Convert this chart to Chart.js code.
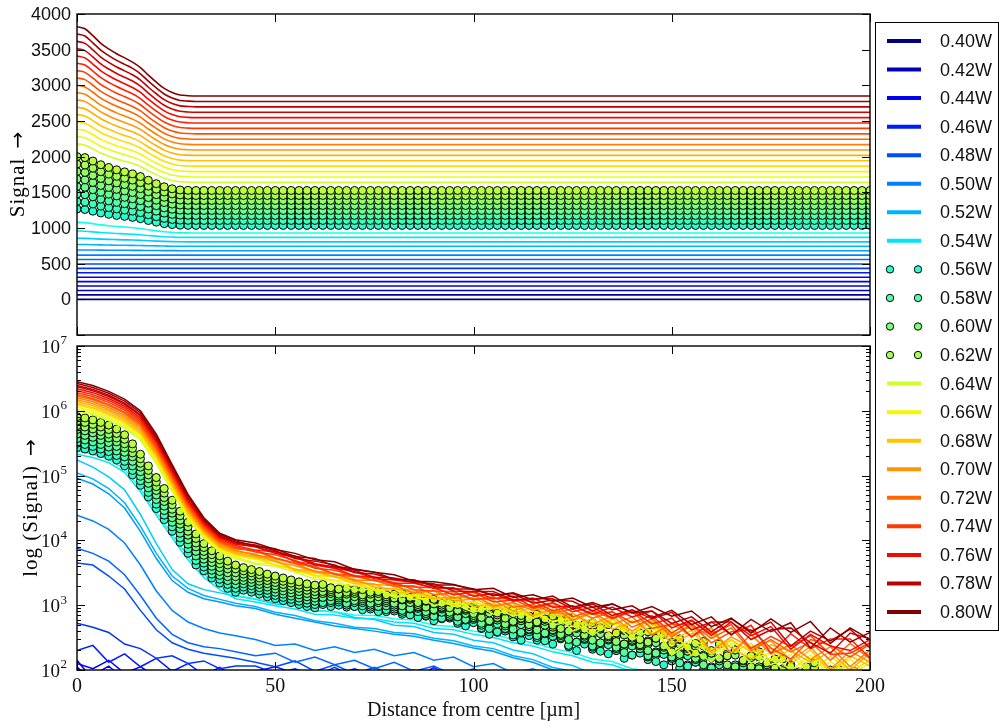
<!DOCTYPE html>
<html>
<head>
<meta charset="utf-8">
<script src="https://cdn.jsdelivr.net/npm/chart.js@4"></script>
<style>
  body { margin: 0; background: #fff; }
  #wrap { position: relative; width: 1000px; height: 722px; }
  .pane { position: absolute; left: 0; top: 0; width: 1000px; }
</style>
</head>
<body>
<div id="wrap">
  <div class="pane" style="height:722px"><canvas id="logChart"></canvas></div>
  <div class="pane" style="height:340px"><canvas id="linChart"></canvas></div>
</div>
<script>
// pump powers, one profile each
const powers = [0.40,0.41,0.42,0.43,0.44,0.45,0.46,0.47,0.48,0.49,0.50,0.51,0.52,0.53,0.54,0.55,0.56,0.57,0.58,0.59,0.60,
                0.61,0.62,0.63,0.64,0.65,0.66,0.67,0.68,0.69,0.70,0.71,0.72,0.73,0.74,0.75,0.76,0.77,0.78,0.79,0.80];
// these ones are plotted as circles
const dotPowers = [0.56,0.57,0.58,0.59,0.60,0.61,0.62,0.63];

// distance grids [um]
const xEdge = [0, 200];
const xTop = [0,2,4,6,8,10,12,14,16,18,20,22,24,26,28,30,200];
const xLine = [0,4,8,12,16,20,24,28,32,36,40,45,50,55,60,65,70,75,80,85,90,95,100,105,110,115,120,125,130,135,140,145,150,155,160,165,170,175,180,185,190,195,200];
const xDot = [0,2,4,6,8,10,12,14,16,18,20,22,24,26,28,30,32,34,36,38,40,42,44,46,48,50,52,54,56,58,60,62,64,66,68,70,72,74,76,78,80,
              82,84,86,88,90,92,94,96,98,100,102,104,106,108,110,112,114,116,118,120,122,124,126,128,130,132,134,136,138,140,
              142,144,146,148,150,152,154,156,158,160,162,164,166,168,170,172,174,176,178,180,182,184,186,188,190,192,194,196,198,200];

const xTicks = [0, 50, 100, 150, 200];
const yTopTicks = [-500, 0, 500, 1000, 1500, 2000, 2500, 3000, 3500, 4000];
const logDecades = [2, 3, 4, 5, 6, 7];

// upper panel: offset signal
const topSignal = [
  [0,0],                 // 0.40
  [62,62],
  [124,124],
  [186,186],
  [248,248],
  [310,310],             // 0.45
  [372,372],
  [434,434],
  [496,496],
  [558,558],
  [620,620],             // 0.50
  [692,692,691,690,689,688,688,687,686,685,684,683,683,682,682,682,682],
  [769,768,766,763,761,759,758,756,754,752,749,747,745,744,744,744,744],
  [856,855,850,844,840,837,834,831,827,821,816,812,809,807,806,806,806],
  [958,955,946,936,929,923,918,912,905,895,886,878,873,869,868,868,868],
  [1080,1076,1061,1044,1032,1022,1013,1004,992,975,960,947,938,932,931,930,930],   // 0.55
  [1266,1259,1236,1211,1192,1176,1163,1149,1130,1105,1082,1061,1048,1039,1037,1036,
   1036,1036,1036,1036,1036,1036,1036,1036,1036,1036,1036,1036,1036,1036,1036,1036,1036,
   1036,1036,1036,1036,1036,1036,1036,1036,1036,1036,1036,1036,1036,1036,1036,1036,1036,
   1036,1036,1036,1036,1036,1036,1036,1036,1036,1036,1036,1036,1036,1036,1036,1036,1036,
   1036,1036,1036,1036,1036,1036,1036,1036,1036,1036,1036,1036,1036,1036,1036,1036,1036,
   1036,1036,1036,1036,1036,1036,1036,1036,1036,1036,1036,1036,1036,1036,1036,1036,1036],
  [1371,1363,1337,1307,1286,1268,1252,1236,1215,1186,1159,1135,1119,1110,1107,1106,
   1106,1106,1106,1106,1106,1106,1106,1106,1106,1106,1106,1106,1106,1106,1106,1106,1106,
   1106,1106,1106,1106,1106,1106,1106,1106,1106,1106,1106,1106,1106,1106,1106,1106,1106,
   1106,1106,1106,1106,1106,1106,1106,1106,1106,1106,1106,1106,1106,1106,1106,1106,1106,
   1106,1106,1106,1106,1106,1106,1106,1106,1106,1106,1106,1106,1106,1106,1106,1106,1106,
   1106,1106,1106,1106,1106,1106,1106,1106,1106,1106,1106,1106,1106,1106,1106,1106,1106],
  [1476,1467,1437,1404,1380,1359,1341,1323,1299,1266,1236,1209,1191,1181,1178,1176,
   1176,1176,1176,1176,1176,1176,1176,1176,1176,1176,1176,1176,1176,1176,1176,1176,1176,
   1176,1176,1176,1176,1176,1176,1176,1176,1176,1176,1176,1176,1176,1176,1176,1176,1176,
   1176,1176,1176,1176,1176,1176,1176,1176,1176,1176,1176,1176,1176,1176,1176,1176,1176,
   1176,1176,1176,1176,1176,1176,1176,1176,1176,1176,1176,1176,1176,1176,1176,1176,1176,
   1176,1176,1176,1176,1176,1176,1176,1176,1176,1176,1176,1176,1176,1176,1176,1176,1176],
  [1581,1571,1537,1501,1474,1450,1430,1410,1383,1347,1313,1283,1263,1251,1248,1246,
   1246,1246,1246,1246,1246,1246,1246,1246,1246,1246,1246,1246,1246,1246,1246,1246,1246,
   1246,1246,1246,1246,1246,1246,1246,1246,1246,1246,1246,1246,1246,1246,1246,1246,1246,
   1246,1246,1246,1246,1246,1246,1246,1246,1246,1246,1246,1246,1246,1246,1246,1246,1246,
   1246,1246,1246,1246,1246,1246,1246,1246,1246,1246,1246,1246,1246,1246,1246,1246,1246,
   1246,1246,1246,1246,1246,1246,1246,1246,1246,1246,1246,1246,1246,1246,1246,1246,1246],
  [1686,1675,1638,1597,1568,1542,1520,1497,1468,1427,1390,1357,1335,1322,1318,1316,
   1316,1316,1316,1316,1316,1316,1316,1316,1316,1316,1316,1316,1316,1316,1316,1316,1316,
   1316,1316,1316,1316,1316,1316,1316,1316,1316,1316,1316,1316,1316,1316,1316,1316,1316,
   1316,1316,1316,1316,1316,1316,1316,1316,1316,1316,1316,1316,1316,1316,1316,1316,1316,
   1316,1316,1316,1316,1316,1316,1316,1316,1316,1316,1316,1316,1316,1316,1316,1316,1316,
   1316,1316,1316,1316,1316,1316,1316,1316,1316,1316,1316,1316,1316,1316,1316,1316,1316],
  [1791,1779,1738,1694,1661,1633,1609,1584,1552,1508,1467,1431,1406,1392,1388,1386,
   1386,1386,1386,1386,1386,1386,1386,1386,1386,1386,1386,1386,1386,1386,1386,1386,1386,
   1386,1386,1386,1386,1386,1386,1386,1386,1386,1386,1386,1386,1386,1386,1386,1386,1386,
   1386,1386,1386,1386,1386,1386,1386,1386,1386,1386,1386,1386,1386,1386,1386,1386,1386,
   1386,1386,1386,1386,1386,1386,1386,1386,1386,1386,1386,1386,1386,1386,1386,1386,1386,
   1386,1386,1386,1386,1386,1386,1386,1386,1386,1386,1386,1386,1386,1386,1386,1386,1386],
  [1896,1883,1839,1790,1755,1724,1698,1672,1636,1588,1544,1504,1478,1463,1458,1456,
   1456,1456,1456,1456,1456,1456,1456,1456,1456,1456,1456,1456,1456,1456,1456,1456,1456,
   1456,1456,1456,1456,1456,1456,1456,1456,1456,1456,1456,1456,1456,1456,1456,1456,1456,
   1456,1456,1456,1456,1456,1456,1456,1456,1456,1456,1456,1456,1456,1456,1456,1456,1456,
   1456,1456,1456,1456,1456,1456,1456,1456,1456,1456,1456,1456,1456,1456,1456,1456,1456,
   1456,1456,1456,1456,1456,1456,1456,1456,1456,1456,1456,1456,1456,1456,1456,1456,1456],
  [2001,1987,1939,1887,1849,1816,1787,1759,1721,1669,1621,1578,1550,1533,1528,1526,
   1526,1526,1526,1526,1526,1526,1526,1526,1526,1526,1526,1526,1526,1526,1526,1526,1526,
   1526,1526,1526,1526,1526,1526,1526,1526,1526,1526,1526,1526,1526,1526,1526,1526,1526,
   1526,1526,1526,1526,1526,1526,1526,1526,1526,1526,1526,1526,1526,1526,1526,1526,1526,
   1526,1526,1526,1526,1526,1526,1526,1526,1526,1526,1526,1526,1526,1526,1526,1526,1526,
   1526,1526,1526,1526,1526,1526,1526,1526,1526,1526,1526,1526,1526,1526,1526,1526,1526],
  [2180,2164,2110,2050,2007,1969,1937,1905,1861,1802,1748,1699,1667,1648,1643,1640,1640],   // 0.64
  [2283,2266,2209,2147,2102,2062,2028,1994,1948,1886,1829,1778,1744,1725,1719,1716,1716],
  [2385,2367,2308,2242,2195,2153,2118,2082,2035,1969,1910,1856,1821,1800,1794,1791,1791],
  [2488,2469,2407,2339,2289,2246,2209,2171,2122,2053,1991,1935,1898,1876,1870,1867,1867],
  [2590,2571,2506,2434,2383,2337,2298,2260,2208,2136,2072,2013,1974,1952,1945,1942,1942],
  [2693,2673,2605,2531,2477,2430,2389,2349,2295,2221,2153,2092,2052,2028,2021,2018,2018],
  [2796,2775,2705,2628,2571,2522,2480,2438,2382,2305,2234,2171,2129,2105,2098,2094,2094],   // 0.70
  [2898,2876,2803,2723,2665,2614,2570,2526,2468,2388,2315,2249,2205,2180,2173,2169,2169],
  [3001,2978,2903,2820,2759,2706,2661,2615,2555,2472,2396,2328,2283,2256,2249,2245,2245],
  [3103,3080,3001,2915,2852,2798,2751,2704,2641,2555,2477,2406,2359,2332,2324,2320,2320],
  [3206,3182,3101,3012,2947,2890,2842,2793,2728,2639,2558,2485,2437,2408,2400,2396,2396],
  [3309,3284,3200,3108,3041,2983,2932,2882,2815,2723,2639,2564,2514,2485,2476,2472,2472],
  [3411,3385,3299,3204,3135,3074,3022,2970,2901,2806,2720,2642,2590,2560,2551,2547,2547],
  [3514,3487,3398,3300,3229,3167,3113,3060,2988,2890,2801,2721,2668,2636,2627,2623,2623],
  [3616,3588,3497,3396,3322,3258,3203,3148,3074,2973,2882,2799,2744,2712,2703,2698,2698],
  [3719,3691,3596,3492,3417,3350,3294,3237,3161,3058,2963,2878,2821,2788,2779,2774,2774],
  [3822,3793,3696,3589,3511,3443,3385,3326,3249,3142,3044,2957,2899,2865,2855,2850,2850]    // 0.80
];

// lower panel: log10(signal)
const logSignal = [
  [1.80,1.60,1.72,1.55,1.66,1.50,1.62,1.48,1.58,1.45,1.55],   // 0.40
  [1.90,1.70,1.80,1.62,1.75,1.58,1.70,1.55,1.65,1.50,1.60],
  [2.05,1.80,1.95,1.72,1.88,1.65,1.78,1.60,1.72,1.55,1.68],
  [2.15,1.85,1.98,1.70,1.90,1.65,1.80,1.60,1.75,1.55,1.70],
  [2.02,1.92,2.06,1.85,1.98,1.80,1.92,1.75,1.88,1.72,1.85],
  [2.10,2.02,2.15,1.95,2.05,1.90,2.00,1.85,1.96,1.80,1.92,    // 0.45
   1.85,1.70,2.01,1.66,1.82,1.60,1.78,1.95,1.62,1.75,1.58,1.72,1.90,1.55],
  [2.30,2.38,2.12,2.25,2.05,2.18,1.98,2.10,1.92,2.04,1.88,
   1.98,2.05,1.95,1.80,1.92,2.02,1.90,1.72,1.86,2.04,1.84,1.68,1.80,1.65,1.78,1.62,1.76,1.60],
  [2.72,2.66,2.58,2.40,2.33,2.18,2.22,2.10,2.14,2.02,2.06,
   2.06,1.95,2.02,1.90,2.04,1.88,1.98,1.85,1.96,1.82,1.92,1.80,1.90,1.78,1.86,1.75,1.84,1.72,1.80,1.70],
  [3.65,3.62,3.45,3.25,2.92,2.62,2.42,2.32,2.26,2.22,2.18,
   2.12,2.05,2.14,1.98,2.08,1.94,2.04,1.90,2.00,1.86,1.97,1.82,1.94,1.80,1.90,1.76,1.86,1.72,1.82,1.70],
  [3.88,3.80,3.68,3.47,3.15,2.80,2.55,2.42,2.36,2.33,2.28,
   2.22,2.26,2.12,2.20,2.08,2.15,2.02,2.12,1.98,2.06,1.92,2.02,1.88,1.96,1.84,1.92,1.80,1.86,1.75,1.82,1.70,1.78],
  [4.39,4.30,4.17,3.96,3.62,3.22,2.92,2.74,2.64,2.57,2.53,    // 0.50
   2.47,2.38,2.40,2.30,2.36,2.27,2.32,2.22,2.27,2.15,2.20,2.05,2.10,1.95,2.02,1.85,1.92,1.80,1.86,1.72,1.80,1.68],
  [4.96,4.87,4.72,4.50,4.14,3.72,3.38,3.20,3.10,3.05,2.99,
   2.95,2.86,2.80,2.74,2.68,2.64,2.60,2.55,2.52,2.46,2.41,2.34,2.29,2.19,2.12,2.00,1.93,1.85,1.80,1.72,1.68,1.62],
  [5.04,4.95,4.80,4.58,4.22,3.80,3.45,3.26,3.15,3.09,3.03,
   2.98,2.89,2.84,2.76,2.72,2.66,2.64,2.58,2.56,2.49,2.45,2.37,2.33,2.22,2.16,2.04,1.98,1.88,1.84,1.74,1.71,1.64],
  [5.24,5.13,4.98,4.78,4.40,3.95,3.55,3.33,3.24,3.19,3.14,
   3.09,3.02,3.00,2.92,2.90,2.81,2.78,2.69,2.67,2.58,2.55,2.46,2.42,2.31,2.25,2.13,2.07,1.94,1.89,1.78,1.75,1.66],
  [5.33,5.28,5.20,5.05,4.75,4.39,4.04,3.70,3.43,3.24,3.10,
   3.05,2.99,2.94,2.86,2.85,2.80,2.79,2.74,2.72,2.64,2.62,2.55,2.50,2.42,2.37,2.28,2.22,2.12,2.08,1.97,1.93,1.84,1.80],
  [5.38,5.33,5.25,5.10,4.80,4.44,4.09,3.75,3.48,3.29,3.15,    // 0.55
   3.10,3.04,2.99,2.91,2.90,2.85,2.84,2.79,2.77,2.69,2.67,2.60,2.55,2.47,2.42,2.33,2.27,2.17,2.13,2.02,1.98,1.89,1.85],
  [5.43,5.41,5.38,5.34,5.30,5.24,5.15,5.01,4.85,4.67,4.49,4.32,4.14,3.97,3.80,3.62,
   3.53,3.42,3.34,3.26,3.20,3.23,3.20,3.17,3.13,3.10,3.07,3.04,3.01,2.98,2.96,
   3.01,2.98,3.00,2.97,2.98,2.93,2.94,2.90,2.90,2.91,2.86,2.89,2.81,2.83,2.76,2.79,2.80,2.72,2.68,2.73,
   2.64,2.55,2.58,2.60,2.51,2.46,2.53,2.46,2.50,2.40,2.48,2.36,2.30,2.40,2.32,2.37,2.25,2.30,2.18,2.23,
   2.26,2.16,2.23,2.08,2.15,2.03,2.08,2.12,1.98,1.90,1.90,1.98,1.83,1.90,1.95,1.79,1.70,1.85,1.73,1.82,
   1.72,1.78,1.62,1.53,1.68,1.57,1.66,1.48,1.57,1.42],
  [5.50,5.48,5.45,5.41,5.37,5.31,5.22,5.08,4.92,4.74,4.56,4.39,4.21,4.04,3.87,3.69,
   3.59,3.48,3.40,3.32,3.26,3.28,3.25,3.22,3.18,3.15,3.12,3.09,3.06,3.03,3.01,
   3.04,3.04,3.05,3.00,2.98,2.99,2.97,2.98,2.93,2.94,2.89,2.85,2.90,2.84,2.87,2.80,2.82,2.75,2.77,2.78,
   2.65,2.69,2.59,2.63,2.54,2.57,2.59,2.50,2.45,2.52,2.50,2.38,2.43,2.47,2.35,2.29,2.39,2.30,2.35,2.23,
   2.33,2.20,2.13,2.24,2.14,2.21,2.06,2.13,2.00,2.05,2.08,1.96,2.05,1.87,1.95,1.80,1.87,1.93,1.76,1.68,
   1.69,1.78,1.63,1.70,1.76,1.60,1.52,1.66,1.55,1.64],
  [5.57,5.55,5.52,5.48,5.44,5.38,5.29,5.15,4.99,4.81,4.63,4.46,4.28,4.11,3.94,3.76,
   3.65,3.54,3.46,3.38,3.32,3.33,3.30,3.27,3.23,3.20,3.17,3.14,3.11,3.08,3.06,
   3.12,3.07,3.08,3.03,3.04,3.04,3.00,2.98,2.99,2.97,2.92,2.94,2.95,2.87,2.83,2.89,2.83,2.86,2.78,2.80,
   2.69,2.64,2.71,2.64,2.68,2.58,2.62,2.53,2.56,2.58,2.50,2.55,2.43,2.49,2.37,2.42,2.46,2.33,2.27,2.37,
   2.34,2.22,2.28,2.31,2.18,2.11,2.22,2.12,2.18,2.03,2.16,1.99,1.91,2.05,1.93,2.02,1.84,1.93,1.77,1.85,
   1.87,1.76,1.85,1.67,1.76,1.61,1.69,1.74,1.58,1.50],
  [5.64,5.62,5.59,5.55,5.51,5.45,5.36,5.22,5.06,4.88,4.70,4.53,4.35,4.18,4.01,3.83,
   3.71,3.60,3.52,3.44,3.38,3.38,3.35,3.32,3.28,3.25,3.22,3.19,3.16,3.13,3.11,
   3.12,3.13,3.11,3.11,3.07,3.07,3.03,3.04,3.04,3.00,3.03,2.95,2.97,2.90,2.92,2.94,2.86,2.82,2.87,2.81,
   2.72,2.75,2.77,2.68,2.63,2.70,2.63,2.67,2.57,2.61,2.53,2.47,2.57,2.49,2.54,2.42,2.48,2.35,2.40,2.44,
   2.33,2.40,2.26,2.32,2.20,2.26,2.29,2.16,2.08,2.19,2.16,2.00,2.08,2.13,1.96,1.88,2.02,1.91,1.99,1.82,
   1.95,1.79,1.71,1.85,1.74,1.83,1.66,1.74,1.59,1.67],
  [5.71,5.69,5.66,5.62,5.58,5.52,5.43,5.29,5.13,4.95,4.77,4.60,4.42,4.25,4.08,3.90,   // 0.60
   3.77,3.66,3.58,3.50,3.44,3.43,3.40,3.37,3.33,3.30,3.27,3.24,3.21,3.18,3.16,
   3.18,3.18,3.14,3.11,3.13,3.10,3.11,3.07,3.07,3.03,2.99,3.04,2.98,3.01,2.93,2.96,2.89,2.91,2.92,2.84,
   2.86,2.76,2.80,2.71,2.74,2.76,2.67,2.62,2.69,2.62,2.55,2.60,2.64,2.52,2.46,2.56,2.48,2.52,2.40,2.46,
   2.37,2.30,2.42,2.31,2.38,2.24,2.30,2.18,2.23,2.26,2.14,2.22,2.05,2.13,1.97,2.05,2.10,1.94,1.85,2.00,
   1.95,1.80,1.88,1.93,1.77,1.69,1.84,1.72,1.81,1.64],
  [5.77,5.75,5.72,5.68,5.64,5.58,5.49,5.35,5.19,5.01,4.83,4.66,4.48,4.31,4.14,3.96,
   3.83,3.72,3.64,3.56,3.50,3.48,3.45,3.42,3.38,3.35,3.32,3.29,3.26,3.23,3.21,
   3.21,3.21,3.17,3.17,3.18,3.13,3.11,3.13,3.10,3.11,3.08,3.09,3.01,2.97,3.02,2.97,3.00,2.92,2.94,2.87,
   2.81,2.88,2.81,2.85,2.75,2.79,2.70,2.73,2.75,2.66,2.72,2.60,2.66,2.54,2.59,2.63,2.51,2.44,2.54,2.46,
   2.39,2.45,2.49,2.35,2.28,2.40,2.29,2.36,2.21,2.27,2.17,2.08,2.23,2.11,2.19,2.02,2.10,1.95,2.02,2.08,
   1.93,2.02,1.85,1.93,1.78,1.86,1.92,1.75,1.67,1.82],
  [5.84,5.82,5.79,5.75,5.71,5.65,5.56,5.42,5.26,5.08,4.90,4.73,4.55,4.38,4.21,4.03,
   3.89,3.78,3.70,3.62,3.56,3.53,3.50,3.47,3.43,3.40,3.37,3.34,3.31,3.28,3.26,
   3.27,3.24,3.25,3.20,3.21,3.16,3.17,3.18,3.13,3.11,3.09,3.11,3.04,3.06,3.07,3.00,2.96,3.01,2.95,2.98,
   2.92,2.94,2.85,2.80,2.87,2.80,2.84,2.74,2.78,2.69,2.64,2.74,2.66,2.71,2.59,2.65,2.53,2.57,2.61,2.49,
   2.57,2.43,2.50,2.37,2.43,2.47,2.33,2.26,2.37,2.26,2.18,2.25,2.31,2.14,2.05,2.20,2.08,2.17,1.99,2.08,
   1.96,1.88,2.03,1.91,2.00,1.83,1.92,1.76,1.84,1.90],
  [5.91,5.89,5.86,5.82,5.78,5.72,5.63,5.49,5.33,5.15,4.97,4.80,4.62,4.45,4.28,4.10,
   3.95,3.84,3.76,3.68,3.62,3.58,3.55,3.52,3.48,3.45,3.42,3.39,3.36,3.33,3.31,
   3.32,3.27,3.25,3.26,3.24,3.24,3.20,3.21,3.16,3.17,3.18,3.12,3.15,3.07,3.09,3.03,3.05,3.06,2.98,2.94,
   2.93,2.97,2.88,2.91,2.93,2.84,2.79,2.86,2.79,2.83,2.77,2.81,2.69,2.63,2.73,2.65,2.70,2.57,2.63,2.51,
   2.47,2.59,2.49,2.55,2.41,2.48,2.35,2.41,2.44,2.30,2.40,2.22,2.31,2.15,2.22,2.28,2.11,2.03,2.17,2.06,
   1.97,2.05,2.11,1.94,1.86,2.01,1.90,1.98,1.81,1.90],
  [6.00,5.94,5.85,5.73,5.55,5.19,4.75,4.33,4.03,3.82,3.72,    // 0.64
   3.63,3.60,3.51,3.40,3.39,3.23,3.25,3.12,3.16,3.00,3.03,2.89,2.99,2.83,2.92,2.69,2.76,2.53,2.75,2.53,2.69,2.23,2.44,2.24,2.39,2.11,2.18,1.89,2.17,1.98,2.07,1.86],
  [6.03,5.97,5.88,5.76,5.58,5.22,4.78,4.35,4.05,3.84,3.74,
   3.65,3.63,3.51,3.47,3.34,3.30,3.28,3.14,3.15,3.13,2.98,3.05,2.86,2.94,2.80,2.92,2.60,2.73,2.74,2.46,2.63,2.56,2.31,2.13,2.42,2.32,2.08,2.24,1.91,2.13,1.94,2.10],
  [6.06,6.00,5.91,5.79,5.61,5.25,4.81,4.37,4.07,3.86,3.76,
   3.71,3.62,3.56,3.44,3.38,3.35,3.23,3.25,3.09,3.12,3.09,2.93,3.03,2.88,2.91,2.75,2.80,2.58,2.79,2.59,2.73,2.27,2.48,2.31,2.47,2.17,2.26,1.99,2.23,1.99,2.17,1.88],
  [6.09,6.03,5.94,5.82,5.64,5.28,4.83,4.40,4.09,3.88,3.78,
   3.74,3.62,3.56,3.46,3.44,3.35,3.23,3.26,3.14,3.18,3.00,3.06,2.94,2.99,2.81,2.94,2.67,2.80,2.53,2.76,2.57,2.63,2.22,2.51,2.27,2.41,2.14,2.32,1.97,2.21,1.98,2.15],
  [6.11,6.05,5.96,5.84,5.66,5.30,4.86,4.42,4.11,3.89,3.79,
   3.73,3.68,3.53,3.50,3.44,3.33,3.33,3.18,3.21,3.09,3.13,2.98,3.02,2.87,2.97,2.83,2.88,2.65,2.79,2.55,2.76,2.46,2.61,2.25,2.47,2.28,2.34,2.10,2.31,1.97,2.22,2.06],
  [6.14,6.08,5.99,5.87,5.69,5.33,4.88,4.45,4.13,3.91,3.81,
   3.75,3.70,3.55,3.53,3.44,3.40,3.28,3.25,3.24,3.11,3.12,3.11,2.97,3.03,2.84,2.94,2.76,2.88,2.63,2.75,2.75,2.40,2.56,2.58,2.34,2.17,2.39,2.29,2.12,2.28,2.00,2.26],
  [6.17,6.11,6.02,5.90,5.72,5.36,4.91,4.47,4.15,3.93,3.83,    // 0.70
   3.79,3.67,3.61,3.52,3.49,3.37,3.32,3.30,3.19,3.22,3.06,3.10,3.08,2.91,3.01,2.88,2.87,2.71,2.83,2.60,2.80,2.54,2.67,2.29,2.51,2.35,2.45,2.15,2.36,2.01,2.29,2.12],
  [6.20,6.14,6.05,5.93,5.75,5.39,4.94,4.49,4.17,3.95,3.85,
   3.77,3.73,3.64,3.52,3.49,3.39,3.38,3.30,3.19,3.23,3.11,3.16,2.99,3.04,2.92,2.99,2.77,2.90,2.70,2.82,2.54,2.72,2.52,2.65,2.25,2.55,2.25,2.39,2.16,2.36,2.05,2.31],
  [6.23,6.17,6.08,5.96,5.78,5.42,4.96,4.52,4.19,3.97,3.87,
   3.84,3.72,3.64,3.59,3.47,3.44,3.39,3.29,3.30,3.16,3.19,3.08,3.13,2.97,3.01,2.88,2.94,2.80,2.90,2.66,2.79,2.51,2.71,2.49,2.65,2.30,2.47,2.28,2.43,2.15,2.41,2.17],
  [6.25,6.19,6.10,5.98,5.80,5.44,4.99,4.54,4.21,3.98,3.88,
   3.85,3.73,3.65,3.60,3.48,3.46,3.38,3.35,3.24,3.22,3.21,3.09,3.11,3.09,2.95,3.03,2.82,2.92,2.79,2.90,2.64,2.71,2.70,2.42,2.59,2.62,2.34,2.17,2.47,2.38,2.20,2.40],
  [6.28,6.22,6.13,6.01,5.83,5.47,5.01,4.57,4.23,4.00,3.90,
   3.82,3.78,3.69,3.57,3.54,3.45,3.43,3.32,3.28,3.27,3.16,3.20,3.05,3.08,3.06,2.91,2.99,2.86,2.90,2.73,2.84,2.57,2.76,2.56,2.70,2.33,2.52,2.36,2.53,2.24,2.26,2.42],
  [6.31,6.25,6.16,6.04,5.86,5.50,5.04,4.59,4.25,4.02,3.92,
   3.85,3.82,3.67,3.63,3.57,3.45,3.43,3.34,3.34,3.27,3.16,3.21,3.10,3.14,2.97,3.04,2.90,2.97,2.80,2.92,2.71,2.80,2.51,2.74,2.55,2.69,2.26,2.56,2.33,2.48,2.48,2.19],
  [6.34,6.28,6.19,6.07,5.89,5.53,5.07,4.61,4.27,4.04,3.94,
   3.90,3.80,3.74,3.62,3.57,3.52,3.41,3.39,3.35,3.26,3.27,3.14,3.18,3.06,3.11,2.97,2.99,2.86,2.97,2.82,2.91,2.65,2.77,2.53,2.74,2.53,2.67,2.32,2.55,2.37,2.30,2.47],
  [6.37,6.31,6.22,6.10,5.92,5.56,5.09,4.64,4.29,4.06,3.96,
   3.90,3.82,3.76,3.64,3.59,3.54,3.43,3.42,3.35,3.33,3.22,3.21,3.21,3.08,3.10,3.10,2.94,3.02,2.84,2.93,2.79,2.89,2.62,2.74,2.74,2.47,2.62,2.65,2.42,2.26,2.57,2.48],
  [6.39,6.33,6.24,6.12,5.94,5.58,5.12,4.66,4.31,4.07,3.97,
   3.93,3.84,3.72,3.68,3.62,3.50,3.48,3.40,3.39,3.29,3.25,3.25,3.15,3.18,3.03,3.08,3.06,2.91,3.02,2.88,2.91,2.72,2.82,2.59,2.79,2.60,2.74,2.37,2.60,2.45,2.63,2.34],
  [6.42,6.36,6.27,6.15,5.97,5.61,5.14,4.69,4.33,4.09,3.99,
   3.91,3.87,3.75,3.72,3.60,3.56,3.51,3.40,3.39,3.31,3.31,3.25,3.15,3.19,3.08,3.14,2.97,3.04,2.93,2.99,2.81,2.92,2.70,2.82,2.54,2.78,2.59,2.73,2.34,2.65,2.43,2.58],
  [6.45,6.39,6.30,6.18,6.00,5.64,5.17,4.71,4.35,4.11,4.01,    // 0.80
   3.96,3.86,3.80,3.70,3.67,3.55,3.51,3.47,3.37,3.36,3.32,3.24,3.26,3.12,3.16,3.06,3.11,2.97,3.02,2.88,2.98,2.83,2.91,2.67,2.80,2.57,2.79,2.58,2.75,2.41,2.65,2.47]
];

// matplotlib "jet"
function jet(t) {
  const seg = pts => {
    for (let k = 1; k < pts.length; k++) {
      if (t <= pts[k][0]) {
        const [x0, y0] = pts[k - 1], [x1, y1] = pts[k];
        return y0 + (y1 - y0) * (t - x0) / (x1 - x0);
      }
    }
    return pts[pts.length - 1][1];
  };
  const r = seg([[0,0],[0.35,0],[0.66,1],[0.89,1],[1,0.5]]);
  const g = seg([[0,0],[0.125,0],[0.375,1],[0.64,1],[0.91,0],[1,0]]);
  const b = seg([[0,0.5],[0.11,1],[0.34,1],[0.65,0],[1,0]]);
  return `rgb(${Math.round(r * 255)},${Math.round(g * 255)},${Math.round(b * 255)})`;
}

function makeSets(rows, isLog) {
  return powers.map((p, i) => {
    const dot = dotPowers.includes(p);
    const c = jet(i / (powers.length - 1));
    const row = rows[i];
    let xs = xLine;
    if (dot) xs = xDot;
    else if (!isLog) xs = row.length === 2 ? xEdge : xTop;
    return {
      label: p.toFixed(2) + 'W',
      data: row.map((v, k) => ({ x: xs[k], y: isLog ? Math.pow(10, v) : v })),
      borderColor: c,
      backgroundColor: c,
      borderWidth: isLog ? 1.5 : 1.6,
      showLine: !dot,
      pointRadius: dot ? 4 : 0,
      pointBorderColor: '#000',
      pointBackgroundColor: c,
      pointBorderWidth: 1,
      tension: 0,
      cubicInterpolationMode: isLog ? 'default' : 'monotone',
      clip: 0,
      order: powers.length - 1 - i,
      dot: dot,
      inLegend: i % 2 === 0
    };
  });
}

// rotated axis title with a larger arrow glyph after it
function drawYTitle(ctx, text, x, y) {
  ctx.save();
  ctx.translate(x, y);
  ctx.rotate(-Math.PI / 2);
  ctx.textAlign = 'left';
  ctx.textBaseline = 'middle';
  ctx.font = '21px "Liberation Serif"';
  ctx.letterSpacing = '1px';
  const w1 = ctx.measureText(text).width;
  ctx.font = '20px "DejaVu Sans"';
  ctx.letterSpacing = '0px';
  const w2 = ctx.measureText('\u2192').width;
  const gap = 9;
  const x0 = -(w1 + gap + w2) / 2;
  ctx.font = '21px "Liberation Serif"';
  ctx.letterSpacing = '1px';
  ctx.fillText(text, x0, 0);
  ctx.font = '20px "DejaVu Sans"';
  ctx.letterSpacing = '0px';
  ctx.fillText('\u2192', x0 + w1 + gap, 1);
  ctx.restore();
}

// box, inward ticks, tick labels, titles
const framePlugin = {
  id: 'frame',
  afterDatasetsDraw(chart) {
    const { ctx, chartArea: a } = chart;
    const xs = chart.scales.x, ys = chart.scales.y;
    const seg = (x1, y1, x2, y2) => { ctx.beginPath(); ctx.moveTo(x1, y1); ctx.lineTo(x2, y2); ctx.stroke(); };
    ctx.save();
    ctx.strokeStyle = '#000';
    ctx.lineWidth = 1;
    xTicks.forEach(v => {
      const px = Math.round(xs.getPixelForValue(v)) + 0.5;
      seg(px, a.top, px, a.top + 8);
      seg(px, a.bottom, px, a.bottom - 8);
    });
    const yTick = (val, len) => {
      const py = Math.round(ys.getPixelForValue(val)) + 0.5;
      seg(a.left, py, a.left + len, py);
      seg(a.right, py, a.right - len, py);
    };
    if (ys.type === 'logarithmic') {
      logDecades.forEach(k => {
        yTick(Math.pow(10, k), 8);
        if (k < 7) for (let m = 2; m <= 9; m++) yTick(m * Math.pow(10, k), 4);
      });
    } else {
      yTopTicks.forEach(v => yTick(v, 8));
    }
    ctx.lineWidth = 1.4;
    ctx.strokeRect(a.left, a.top, a.right - a.left, a.bottom - a.top);
    ctx.restore();
  },
  afterDraw(chart, args, opts) {
    const { ctx, chartArea: a } = chart;
    const ys = chart.scales.y;
    ctx.save();
    ctx.fillStyle = '#111';
    ctx.textBaseline = 'middle';
    if (ys.type === 'logarithmic') {
      logDecades.forEach(k => {
        const py = ys.getPixelForValue(Math.pow(10, k));
        ctx.font = '19px "Liberation Serif"';
        ctx.textAlign = 'right';
        ctx.fillText('10', 60, py + 2);
        ctx.font = '13px "Liberation Serif"';
        ctx.textAlign = 'left';
        ctx.fillText(String(k), 60.5, py - 5);
      });
    } else {
      ctx.font = '18px "Liberation Sans"';
      ctx.textAlign = 'right';
      yTopTicks.filter(v => v >= 0).forEach(v => {
        ctx.fillText(String(v), 71, ys.getPixelForValue(v) + 1);
      });
    }
    if (opts.xTitle) {
      ctx.font = '20px "Liberation Serif"';
      ctx.textAlign = 'center';
      ctx.fillText(opts.xTitle, (a.left + a.right) / 2, 711);
    }
    ctx.restore();
    drawYTitle(ctx, opts.title, opts.titleX, (a.top + a.bottom) / 2);
  }
};

// legend in a box at the right, every second power
const legendPlugin = {
  id: 'powerLegend',
  afterDraw(chart) {
    const ctx = chart.ctx;
    const items = chart.data.datasets.filter(d => d.inLegend);
    ctx.save();
    ctx.fillStyle = '#fff';
    ctx.fillRect(875.5, 22.5, 123, 608);
    ctx.strokeStyle = '#000';
    ctx.lineWidth = 1;
    ctx.strokeRect(875.5, 22.5, 123, 608);
    items.forEach((d, k) => {
      const y = 41 + k * 28.55;
      if (d.dot) {
        [890, 918].forEach(cx => {
          ctx.beginPath();
          ctx.arc(cx, y, 3.7, 0, Math.PI * 2);
          ctx.fillStyle = d.pointBackgroundColor;
          ctx.fill();
          ctx.stroke();
        });
      } else {
        ctx.strokeStyle = d.borderColor;
        ctx.lineWidth = 4;
        ctx.beginPath();
        ctx.moveTo(887, y);
        ctx.lineTo(921, y);
        ctx.stroke();
        ctx.strokeStyle = '#000';
        ctx.lineWidth = 1;
      }
      ctx.fillStyle = '#111';
      ctx.font = '18px "Liberation Sans"';
      ctx.textAlign = 'left';
      ctx.textBaseline = 'middle';
      ctx.fillText(d.label, 940, y + 1);
    });
    ctx.restore();
  }
};

// lower panel (log) fills the page; upper panel sits on top of it
new Chart(document.getElementById('logChart'), {
  type: 'line',
  data: { datasets: makeSets(logSignal, true) },
  options: {
    responsive: true,
    maintainAspectRatio: false,
    animation: false,
    events: [],
    layout: { padding: { top: 346, right: 130, bottom: 0, left: 0 } },
    plugins: {
      legend: { display: false },
      tooltip: { enabled: false },
      frame: { title: 'log (Signal)', titleX: 31, xTitle: 'Distance from centre [\u00b5m]' }
    },
    scales: {
      x: {
        type: 'linear', min: 0, max: 200,
        afterFit: s => { s.height = 52; },
        grid: { display: false, drawTicks: false },
        border: { display: false },
        ticks: { stepSize: 50, padding: 5, maxRotation: 0, autoSkip: false, color: '#111',
                 font: { family: 'Liberation Serif', size: 20 } }
      },
      y: {
        type: 'logarithmic', min: 100, max: 1e7,
        afterFit: s => { s.width = 77; },
        grid: { display: false, drawTicks: false },
        border: { display: false },
        ticks: { display: false }
      }
    }
  },
  plugins: [framePlugin, legendPlugin]
});

new Chart(document.getElementById('linChart'), {
  type: 'line',
  data: { datasets: makeSets(topSignal, false) },
  options: {
    responsive: true,
    maintainAspectRatio: false,
    animation: false,
    events: [],
    layout: { padding: { top: 14, right: 130, bottom: 4, left: 0 } },
    plugins: {
      legend: { display: false },
      tooltip: { enabled: false },
      frame: { title: 'Signal', titleX: 18 }
    },
    scales: {
      x: { type: 'linear', min: 0, max: 200, display: false },
      y: {
        type: 'linear', min: -500, max: 4000,
        afterFit: s => { s.width = 77; },
        grid: { display: false, drawTicks: false },
        border: { display: false },
        ticks: { display: false, stepSize: 500 }
      }
    }
  },
  plugins: [framePlugin]
});
</script>
</body>
</html>
